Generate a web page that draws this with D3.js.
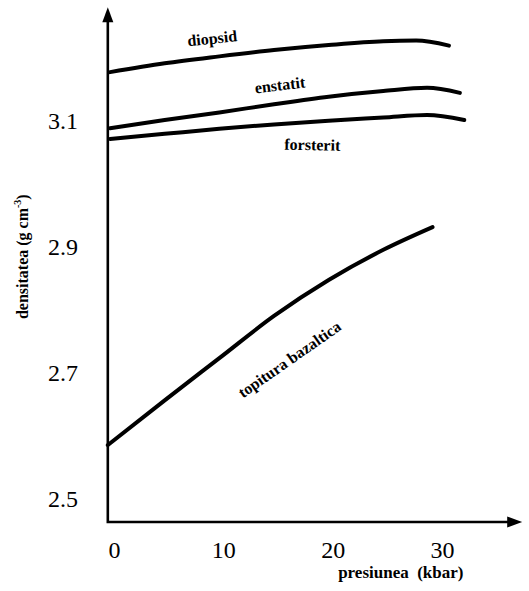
<!DOCTYPE html>
<html>
<head>
<meta charset="utf-8">
<script src="https://cdn.jsdelivr.net/npm/d3@7"></script>
<style>
  html, body { margin: 0; padding: 0; background: #fff; }
  svg { display: block; }
  svg text { font-family: "Liberation Serif", "Times New Roman", Times, serif !important; fill: #000; }
</style>
</head>
<body>
<svg id="chart" width="529" height="591"></svg>
<script>
// Pressure (kbar) sample points for each curve
const pressDiopsid   = [0, 5, 10, 15, 20, 25, 28, 31];
const densDiopsid    = [3.176, 3.190, 3.201, 3.211, 3.219, 3.225, 3.226, 3.218];

const pressEnstatit  = [0, 5, 10, 15, 20, 25, 29, 32];
const densEnstatit   = [3.087, 3.100, 3.112, 3.125, 3.137, 3.146, 3.151, 3.143];

const pressForsterit = [0, 5, 10, 15, 20, 25, 29, 32.4];
const densForsterit  = [3.070, 3.078, 3.086, 3.093, 3.099, 3.104, 3.108, 3.100];

const pressTopitura  = [-0.2, 5, 10, 15, 20, 25, 29.5];
const densTopitura   = [2.584, 2.655, 2.722, 2.789, 2.846, 2.894, 2.930];

const xTicks = [0, 10, 20, 30];
const yTicks = [2.5, 2.7, 2.9, 3.1];
const yTickLabels = ["2.5", "2.7", "2.9", "3.1"];

const curveNames = ["diopsid", "enstatit", "forsterit", "topitura bazaltica"];

const svg = d3.select("#chart");

const x = d3.scaleLinear().domain([0, 30]).range([110, 438]);
const y = d3.scaleLinear().domain([2.5, 3.1]).range([498, 120]);

// axis extents in data units
const xStart = -0.2, xEnd = 37.7;
const yStart = 2.462, yEnd = 3.279;

// axes with arrowheads
const ax = svg.append("g");
ax.append("path")
  .attr("d", `M${x(xStart)},${y(yEnd) + 12} L${x(xStart)},${y(yStart)} L${x(xEnd) - 12},${y(yStart)}`)
  .attr("fill", "none").attr("stroke", "#000").attr("stroke-width", 2.6);
ax.append("path")
  .attr("d", `M${x(xStart)},${y(yEnd)} l-5.5,15 l11,0 z`)
  .attr("fill", "#000");
ax.append("path")
  .attr("d", `M${x(xEnd)},${y(yStart)} l-15,-5.5 l0,11 z`)
  .attr("fill", "#000");

// tick labels through d3 axes (no tick marks, no domain)
const yAxis = d3.axisLeft(y).tickValues(yTicks).tickSize(0).tickPadding(0)
  .tickFormat((d, i) => yTickLabels[i]);
svg.append("g").attr("transform", "translate(78,0)").call(yAxis)
  .call(g => g.select(".domain").remove())
  .selectAll("text")
  .attr("font-size", 24)
  .attr("dy", "0.34em");

const xAxis = d3.axisBottom(x).tickValues(xTicks).tickSize(0).tickPadding(0)
  .tickFormat(d3.format("d"));
svg.append("g").attr("transform", `translate(4,${y(yStart) + 19})`).call(xAxis)
  .call(g => g.select(".domain").remove())
  .selectAll("text")
  .attr("font-size", 24)
  .attr("dy", "0.71em");

// curves
const line = d3.line()
  .x(d => x(d[0]))
  .y(d => y(d[1]))
  .curve(d3.curveMonotoneX);

const series = [
  d3.zip(pressDiopsid, densDiopsid),
  d3.zip(pressEnstatit, densEnstatit),
  d3.zip(pressForsterit, densForsterit),
  d3.zip(pressTopitura, densTopitura)
];

svg.append("g").selectAll("path").data(series).join("path")
  .attr("d", line)
  .attr("fill", "none")
  .attr("stroke", "#000")
  .attr("stroke-width", 4)
  .attr("stroke-linecap", "round");

// curve labels: pressure, density (baseline centre) and rotation
const labelPos = [
  [9.4, 3.221, -6],
  [15.6, 3.147, -7],
  [18.5, 3.052, 1],
  [16.7, 2.713, -35]
];
svg.append("g").selectAll("text").data(curveNames).join("text")
  .attr("transform", (d, i) => `translate(${x(labelPos[i][0])},${y(labelPos[i][1])}) rotate(${labelPos[i][2]})`)
  .attr("text-anchor", "middle")
  .attr("font-size", 16)
  .attr("font-weight", "bold")
  .text(d => d);

// axis titles
const yTitle = svg.append("text")
  .attr("transform", `translate(28,${y(2.883)}) rotate(-90)`)
  .attr("text-anchor", "middle")
  .attr("font-size", 16)
  .attr("font-weight", "bold");
yTitle.append("tspan").text("densitatea (g cm");
yTitle.append("tspan").attr("font-size", 10).attr("dy", -7).text("-3");
yTitle.append("tspan").attr("dy", 7).text(")");

svg.append("text")
  .attr("x", x(26.6))
  .attr("y", y(yStart) + 56)
  .attr("text-anchor", "middle")
  .attr("font-size", 17)
  .attr("font-weight", "bold")
  .attr("xml:space", "preserve")
  .text("presiunea  (kbar)");
</script>
</body>
</html>
